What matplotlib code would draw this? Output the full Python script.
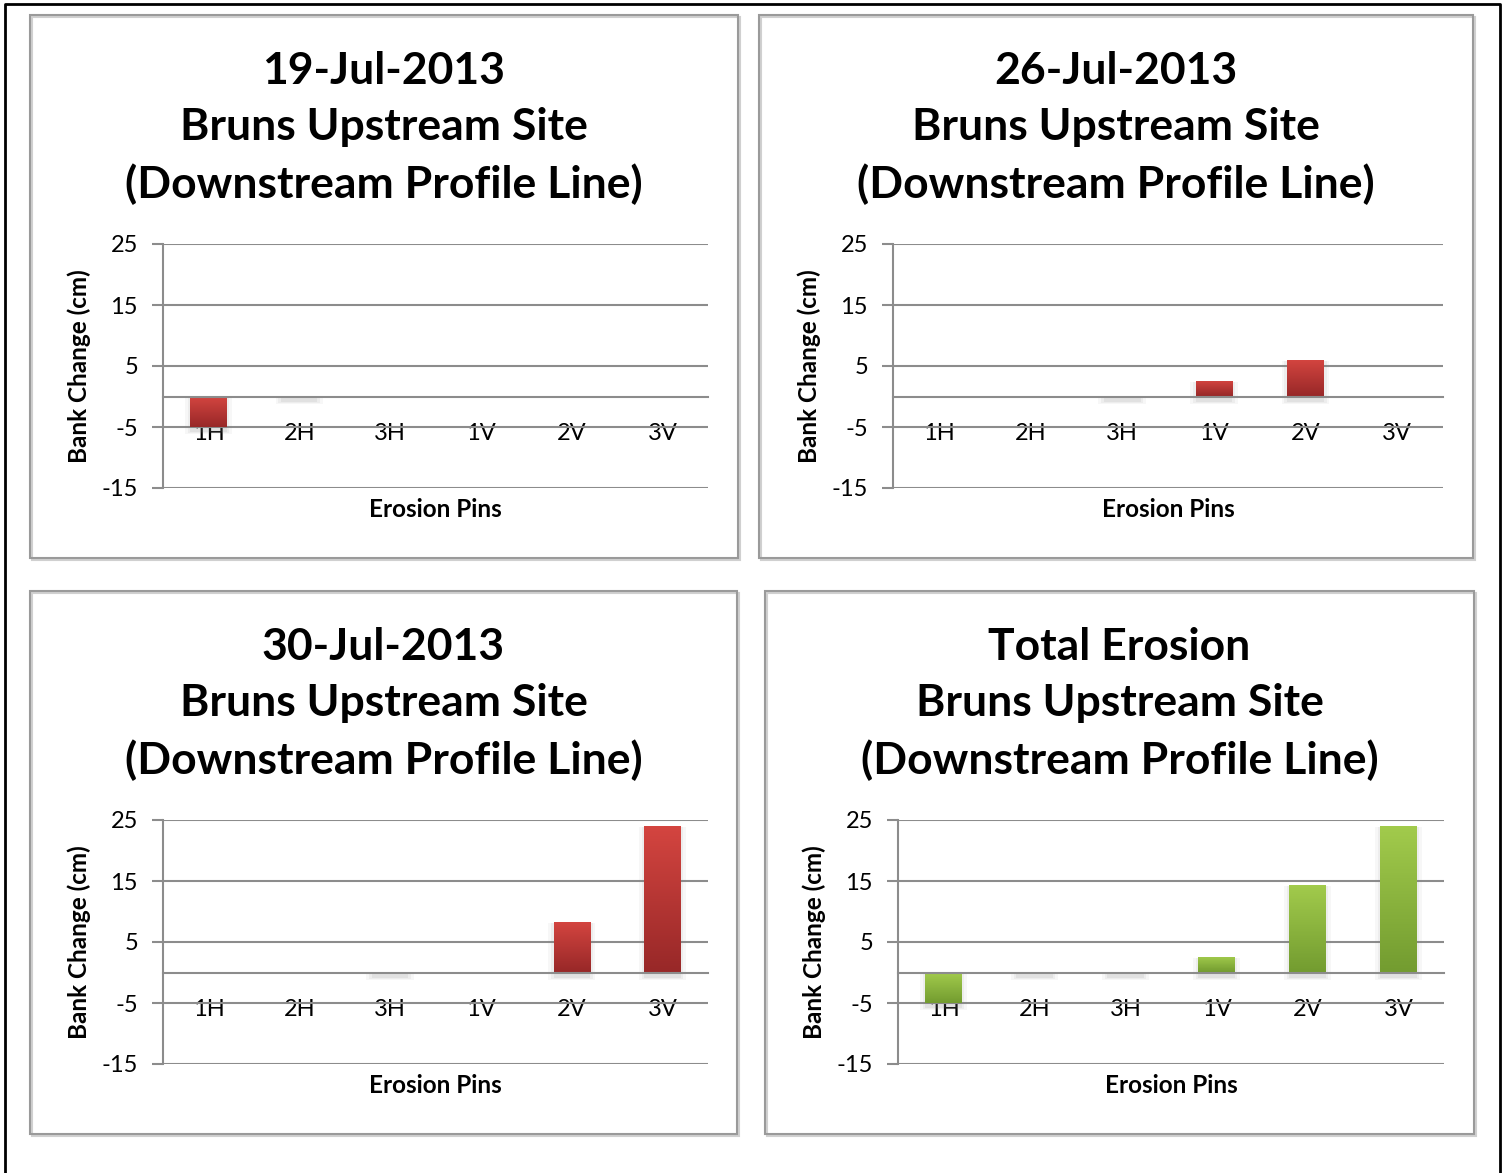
import numpy as np
import matplotlib
matplotlib.use('Agg')
import matplotlib.pyplot as plt
from matplotlib.patches import Rectangle
from matplotlib.lines import Line2D
from matplotlib.colors import LinearSegmentedColormap

plt.rcParams['font.family'] = ['Lato', 'DejaVu Sans']
plt.rcParams['axes.unicode_minus'] = False

# data (nan = no value / no bar)
nan = np.nan
pins = ['1H', '2H', '3H', '1V', '2V', '3V']
jul19 = [-5.0, 0.0, nan, nan, nan, nan]
jul26 = [nan, nan, 0.0, 2.6, 6.0, nan]
jul30 = [nan, nan, 0.0, nan, 8.3, 24.0]
total = [-5.0, 0.0, 0.0, 2.6, 14.3, 24.0]

site = 'Bruns Upstream Site\n(Downstream Profile Line)'
titles = ['19-Jul-2013', '26-Jul-2013', '30-Jul-2013', 'Total Erosion']
yticks = [-15, -5, 5, 15, 25]

red = LinearSegmentedColormap.from_list('red', ['#982828', '#d44540'])
green = LinearSegmentedColormap.from_list('green', ['#739c30', '#a2cb4c'])
grey = '#8c8c8c'

W, H = 1507, 1173
fig = plt.figure(figsize=(W / 100, H / 100), dpi=100)


def frac(l, t, r, b):
    return [l / W, 1 - b / H, (r - l) / W, (b - t) / H]


# outer black frame (open at bottom)
fig.add_artist(Line2D([5 / W, 5 / W, 1500 / W, 1500 / W], [0, 1 - 4 / H, 1 - 4 / H, 0],
                      transform=fig.transFigure, color='black', lw=2))

# (frame box, plot box, title centre y, title, values, colour map)
panels = [
    ((30, 15, 738, 558), (163, 244, 708, 488), 128, titles[0], jul19, red),
    ((759, 15, 1473, 558), (893, 244, 1443, 488), 128, titles[1], jul26, red),
    ((30, 591, 737, 1134), (163, 820, 708, 1064), 704, titles[2], jul30, red),
    ((765, 591, 1474, 1134), (898, 820, 1444, 1064), 704, titles[3], total, green),
]

for box, plot, ty, title, vals, cmap in panels:
    l, t, r, b = box
    # soft shadow then the gray frame
    fig.add_artist(Rectangle(((l + 2) / W, 1 - (b + 2) / H), (r - l) / W, (b - t) / H,
                             transform=fig.transFigure, fill=False, ec='#d0d0d0', lw=1.5))
    fig.add_artist(Rectangle((l / W, 1 - b / H), (r - l) / W, (b - t) / H,
                             transform=fig.transFigure, fill=False, ec='#9a9a9a', lw=1.5))
    fig.text((l + r) / 2 / W, 1 - ty / H, title + '\n' + site, ha='center', va='center',
             fontsize=32, fontweight='bold', linespacing=1.49)

    ax = fig.add_axes(frac(*plot))
    x = np.arange(len(pins))
    v = np.array(vals)
    bars = ax.bar(x, np.nan_to_num(v), width=0.4, color='none', zorder=3)
    grad = np.linspace(0, 1, 64).reshape(-1, 1)
    for xi, vi, p in zip(x, v, bars.patches):
        if np.isnan(vi):
            continue
        # shadow under each bar (also shows for zero bars)
        lo, hi = min(0, vi), max(0, vi)
        for k, a in [(0.06, 0.06), (0.03, 0.08), (0.0, 0.10)]:
            ax.add_patch(Rectangle((p.get_x() - k, lo - 0.9 - k * 5), p.get_width() + 2 * k,
                                   hi - lo + 0.7 + k * 5, color='#808080', alpha=a, lw=0, zorder=2))
        if vi == 0:
            continue
        im = ax.imshow(grad, extent=[p.get_x(), p.get_x() + p.get_width(), lo, hi],
                       origin='lower', aspect='auto', cmap=cmap, zorder=3)
        im.set_clip_path(p)

    ax.set_xlim(-0.5, len(pins) - 0.5)
    ax.set_ylim(-15, 25)
    ax.set_yticks(yticks)
    ax.set_xticks(x)
    ax.set_xticklabels(pins)
    ax.yaxis.grid(True, color=grey, lw=1.5)
    ax.set_axisbelow(True)
    for s in ['top', 'right']:
        ax.spines[s].set_visible(False)
    ax.spines['left'].set_color(grey)
    ax.spines['left'].set_linewidth(1.5)
    ax.spines['bottom'].set_position(('data', 0))
    ax.spines['bottom'].set_color(grey)
    ax.spines['bottom'].set_linewidth(1.5)
    ax.spines['bottom'].set_zorder(4)
    ax.tick_params(axis='y', direction='out', length=8, width=1.5, color=grey, pad=10, labelsize=17)
    ax.tick_params(axis='x', length=0, pad=19, labelsize=17)
    ax.text(0.5, -0.09, 'Erosion Pins', transform=ax.transAxes, ha='center', va='center',
            fontsize=17.5, fontweight='bold')
    ax.text(-0.153, 0.5, 'Bank Change (cm)', transform=ax.transAxes, ha='center', va='center',
            rotation=90, fontsize=17.5, fontweight='bold')

fig.savefig('out.png', dpi=100)
